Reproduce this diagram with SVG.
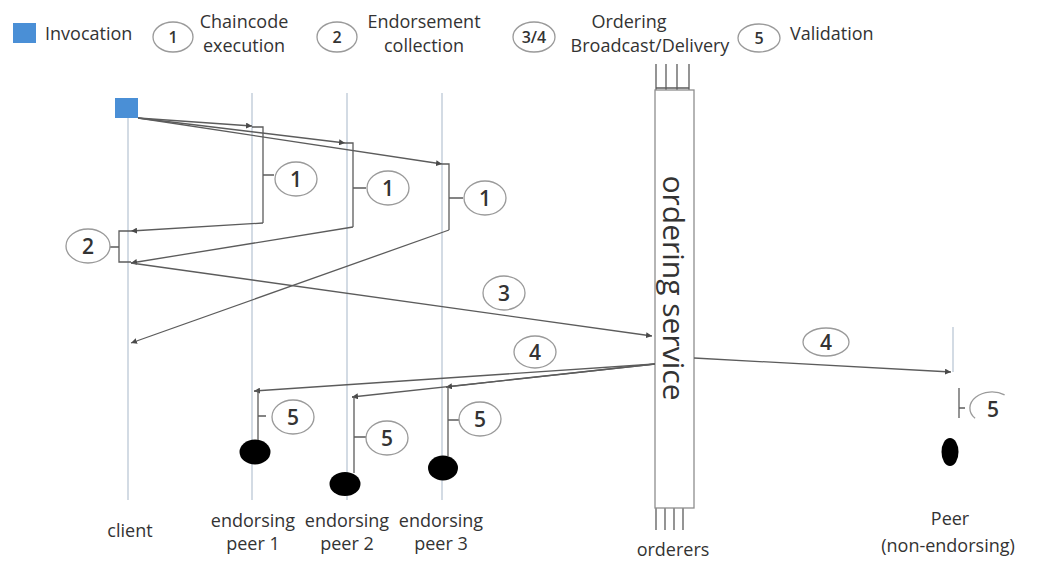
<svg xmlns="http://www.w3.org/2000/svg" width="1037" height="563" viewBox="0 0 1037 563">
  <style>
    .txt { font-family: "Open Sans", "Liberation Sans", sans-serif; fill: #333; }
    .leg { font-size: 18px; }
    .lbl { font-size: 18px; text-anchor: middle; }
    .num { font-family: "Open Sans", "Liberation Sans", sans-serif; font-size: 21px; font-weight: 600; fill: #333; text-anchor: middle; dominant-baseline: central; }
    .lnum { font-size: 16px; }
    .badge { fill: #fff; stroke: #9a9a9a; stroke-width: 1.3; }
    .life { stroke: #bcc8d6; stroke-width: 1.3; fill: none; }
    .msg { stroke: #5c5c5c; stroke-width: 1.3; fill: none; }
    .msgA { stroke: #5c5c5c; stroke-width: 1.3; fill: none; marker-end: url(#tip); }
    .peer { fill: #000; }
    .box { fill: #fff; stroke: #8e8e8e; stroke-width: 1.3; }
  </style>
  <defs>
    <marker id="tip" viewBox="0 0 6 6" refX="6" refY="3" markerWidth="6" markerHeight="6" markerUnits="userSpaceOnUse" orient="auto">
      <path d="M0,0 L6,3 L0,6 z" fill="#4a4a4a"/>
    </marker>
  </defs>
  <rect width="1037" height="563" fill="#fff"/>

  <!-- legend -->
  <g id="legend">
    <rect x="13" y="23" width="23" height="20" fill="#4a8fd6"/>
    <text class="txt leg" x="45" y="40">Invocation</text>
    <ellipse class="badge" cx="173" cy="37" rx="20" ry="15"/>
    <text class="num lnum" x="173" y="37">1</text>
    <text class="txt leg" x="244" y="28" text-anchor="middle">Chaincode</text>
    <text class="txt leg" x="244" y="52" text-anchor="middle">execution</text>
    <ellipse class="badge" cx="337" cy="37" rx="20" ry="15"/>
    <text class="num lnum" x="337" y="37">2</text>
    <text class="txt leg" x="424" y="28" text-anchor="middle">Endorsement</text>
    <text class="txt leg" x="424" y="52" text-anchor="middle">collection</text>
    <ellipse class="badge" cx="534" cy="37" rx="21" ry="15"/>
    <text class="num lnum" x="534" y="37">3/4</text>
    <text class="txt leg" x="629" y="28" text-anchor="middle">Ordering</text>
    <text class="txt leg" x="650" y="52" text-anchor="middle">Broadcast/Delivery</text>
    <ellipse class="badge" cx="759" cy="38" rx="21" ry="14"/>
    <text class="num lnum" x="759" y="38">5</text>
    <text class="txt leg" x="790" y="40">Validation</text>
  </g>

  <!-- lifelines -->
  <g id="lifelines">
    <line class="life" x1="128" y1="118" x2="128" y2="500"/>
    <line class="life" x1="252" y1="93" x2="252" y2="500"/>
    <line class="life" x1="347" y1="93" x2="347" y2="500"/>
    <line class="life" x1="442" y1="93" x2="442" y2="500"/>
  </g>

  <!-- client -->
  <g id="client">
    <rect x="115" y="98" width="23" height="20" fill="#4a8fd6"/>
    <text class="txt lbl" x="130" y="537" font-size="20">client</text>
  </g>

  <!-- endorsing peers -->
  <g id="peer1">
    <ellipse class="peer" cx="255" cy="452" rx="15.5" ry="12.5"/>
    <text class="txt lbl" x="253" y="527">endorsing</text>
    <text class="txt lbl" x="253" y="550">peer 1</text>
  </g>
  <g id="peer2">
    <ellipse class="peer" cx="345" cy="484" rx="15.5" ry="12"/>
    <text class="txt lbl" x="347" y="527">endorsing</text>
    <text class="txt lbl" x="347" y="550">peer 2</text>
  </g>
  <g id="peer3">
    <ellipse class="peer" cx="443" cy="468" rx="15" ry="12.5"/>
    <text class="txt lbl" x="441" y="527">endorsing</text>
    <text class="txt lbl" x="441" y="550">peer 3</text>
  </g>

  <!-- ordering service -->
  <g id="orderers">
    <g class="msg" stroke="#9a9a9a">
      <path d="M656,64 V90 M666,64 V90 M677,64 V90 M689,64 V90 M656,88 H689"/>
      <path d="M656,508 V530 M665,508 V530 M674,508 V530 M683,508 V530"/>
    </g>
    <rect class="box" x="655" y="90" width="39" height="418"/>
    <text class="txt" font-size="30" text-anchor="middle" dominant-baseline="central" transform="translate(674,288) rotate(90)">ordering service</text>
    <text class="txt lbl" x="673" y="556" font-size="21">orderers</text>
  </g>

  <!-- non-endorsing peer -->
  <g id="peer4">
    <line class="life" x1="953" y1="327" x2="953" y2="372" stroke="#a9a9a9"/>
    <ellipse class="peer" cx="950" cy="452" rx="8.5" ry="14"/>
    <text class="txt lbl" x="950" y="525" font-size="21">Peer</text>
    <text class="txt lbl" x="948" y="552" font-size="21">(non-endorsing)</text>
  </g>

  <!-- messages -->
  <g id="connectors">
    <!-- invocation -->
    <path class="msgA" d="M138,118 L252,126"/>
    <path class="msgA" d="M138,118 L345,143"/>
    <path class="msgA" d="M138,118 L442,164"/>
    <!-- chaincode execution brackets and responses -->
    <path class="msg" d="M252,127 H263 V223 M263,175 H274"/>
    <path class="msgA" d="M263,223 L131,231"/>
    <path class="msg" d="M345,143 H353 V227 M353,188 H366"/>
    <path class="msgA" d="M353,227 L131,263"/>
    <path class="msg" d="M442,164 H449 V230 M449,198 H463"/>
    <path class="msgA" d="M449,230 L131,343"/>
    <!-- endorsement collection -->
    <path class="msg" d="M131,231 H119 V262 H131 M110,247 H119"/>
    <!-- broadcast -->
    <path class="msgA" d="M131,263 L652,336"/>
    <!-- delivery -->
    <path class="msgA" d="M655,364 L254,391"/>
    <path class="msgA" d="M655,364 L352,397"/>
    <path class="msgA" d="M655,364 L446,387"/>
    <path class="msgA" d="M694,358 L951,372"/>
    <!-- validation -->
    <path class="msg" d="M254,391 H258 V440 M258,416 H266"/>
    <path class="msg" d="M352,397 H354 V473 M354,437 H366"/>
    <path class="msg" d="M446,387 H448 V456 M448,420 H459"/>
    <path class="msg" stroke="#9a9a9a" d="M959,388 V418 M959,408 H965"/>
  </g>

  <!-- step badges -->
  <g id="badges">
    <ellipse class="badge" cx="296" cy="179" rx="21" ry="17"/>
    <text class="num" x="296" y="179">1</text>
    <ellipse class="badge" cx="388" cy="188" rx="21" ry="17"/>
    <text class="num" x="388" y="188">1</text>
    <ellipse class="badge" cx="485" cy="198" rx="21" ry="17"/>
    <text class="num" x="485" y="198">1</text>
    <ellipse class="badge" cx="88" cy="246" rx="22" ry="17"/>
    <text class="num" x="88" y="246">2</text>
    <ellipse class="badge" cx="504" cy="293" rx="21" ry="17"/>
    <text class="num" x="504" y="293">3</text>
    <ellipse class="badge" cx="535" cy="352" rx="21" ry="16"/>
    <text class="num" x="535" y="352">4</text>
    <ellipse class="badge" cx="826" cy="342" rx="23" ry="14"/>
    <text class="num" x="826" y="342">4</text>
    <ellipse class="badge" cx="293" cy="417" rx="21" ry="17"/>
    <text class="num" x="293" y="417">5</text>
    <ellipse class="badge" cx="387" cy="438" rx="21" ry="17"/>
    <text class="num" x="387" y="438">5</text>
    <ellipse class="badge" cx="480" cy="419" rx="21" ry="17"/>
    <text class="num" x="480" y="419">5</text>
    <path class="badge" fill="none" d="M1004.6,394.9 A22,16 0 0 0 975.1,418.3"/>
    <text class="num" x="993" y="409">5</text>
  </g>
</svg>
